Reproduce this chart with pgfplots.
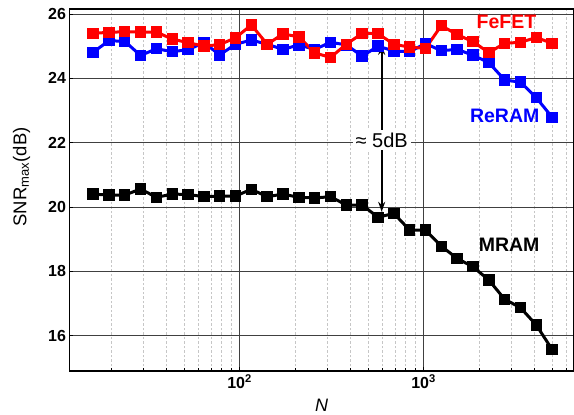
\documentclass[border=0pt]{standalone}
\usepackage{fontspec}
\setmainfont{Liberation Sans}
\usepackage{pgfplots}
\usepackage{pgfplotstable}
\pgfplotsset{compat=1.18}
\usetikzlibrary{arrows.meta}

% N = 2^(4+2k/7)
\pgfplotstableread{
N     fefet  reram  mram
16    25.40  24.81  20.40
19.50 25.43  25.17  20.37
23.78 25.45  25.15  20.37
28.98 25.44  24.71  20.56
35.33 25.44  24.92  20.30
43.07 25.22  24.83  20.40
52.51 25.11  24.89  20.39
64    25.00  25.11  20.32
78.02 25.05  24.73  20.34
95.11 25.26  25.06  20.34
115.9 25.66  25.19  20.55
141.3 25.06  25.06  20.32
172.3 25.38  24.90  20.40
210.1 25.29  25.04  20.30
256   24.79  24.90  20.28
312.1 24.65  25.12  20.32
380.5 25.06  25.04  20.06
463.9 25.40  24.69  20.06
565.5 25.39  25.00  19.68
689.4 25.06  24.85  19.80
840.4 24.97  24.83  19.28
1024  24.93  25.08  19.28
1248  25.64  24.86  18.78
1522  25.36  24.90  18.40
1855  25.14  24.72  18.14
2262  24.80  24.49  17.73
2757  25.09  23.95  17.13
3361  25.12  23.88  16.87
4096  25.27  23.40  16.33
4993  25.09  22.79  15.57
}\snrdata

\begin{document}
\begin{tikzpicture}
\begin{axis}[
  at={(69.5bp,44bp)}, anchor=south west,
  scale only axis,
  width=504bp, height=362bp,
  xmode=log,
  xmin=11.91, xmax=6527,
  ymin=14.9, ymax=26.156,
  xtick={100,1000},
  xticklabels={10\textsuperscript{2},10\textsuperscript{3}},
  minor xtick={20,30,40,50,60,70,80,90,200,300,400,500,600,700,800,900,2000,3000,4000,5000,6000},
  ytick={16,18,20,22,24,26},
  yticklabels={16,18,20,22,24,26},
  ticklabel style={font=\fontsize{16bp}{19bp}\selectfont\bfseries},
  tick pos=left,
  tick align=inside,
  major tick length=4bp,
  minor tick length=3bp,
  tick style={black, line width=0.8bp},
  axis line style={black, line width=1.2bp},
  ymajorgrids=true, xmajorgrids=true, xminorgrids=true,
  major grid style={black!75, line width=0.9bp},
  minor grid style={gray!45, dash pattern=on 2.5bp off 2bp, line width=0.6bp},
  xlabel={\itshape N},
  xlabel style={at={(rel axis cs:0.5,0)}, yshift=-34bp, anchor=center,
    font=\fontsize{18bp}{21bp}\selectfont},
  ylabel={SNR\textsubscript{max}(dB)},
  ylabel style={at={(rel axis cs:0,0.536)}, yshift=48bp, anchor=center,
    font=\fontsize{18.5bp}{22bp}\selectfont},
  mark options={solid},
]
\addplot[black, line width=3bp, mark=square*, mark size=4.2bp] table[x=N, y=mram] {\snrdata};
\addplot[blue, line width=3bp, mark=square*, mark size=4.2bp] table[x=N, y=reram] {\snrdata};
\addplot[red, line width=3bp, mark=square*, mark size=4.2bp] table[x=N, y=fefet] {\snrdata};

\draw[black, {Stealth[length=10bp,width=7bp]}-{Stealth[length=10bp,width=7bp]}, line width=1.7bp]
  (axis cs:592,19.85) -- (axis cs:592,25.04);
\node[fill=white, inner sep=3bp, font=\fontsize{20bp}{23bp}\selectfont]
  at (axis cs:592,22.08) {≈ 5dB};

\node[red, font=\fontsize{19.5bp}{22bp}\selectfont\bfseries] at (axis cs:2822,25.74) {FeFET};
\node[blue, font=\fontsize{19.5bp}{22bp}\selectfont\bfseries] at (axis cs:2759,22.82) {ReRAM};
\node[black, font=\fontsize{19.5bp}{22bp}\selectfont\bfseries] at (axis cs:2918,18.815) {MRAM};
\end{axis}
\pgfresetboundingbox
\useasboundingbox (0,0) rectangle (574bp,415bp);
\end{tikzpicture}
\end{document}
